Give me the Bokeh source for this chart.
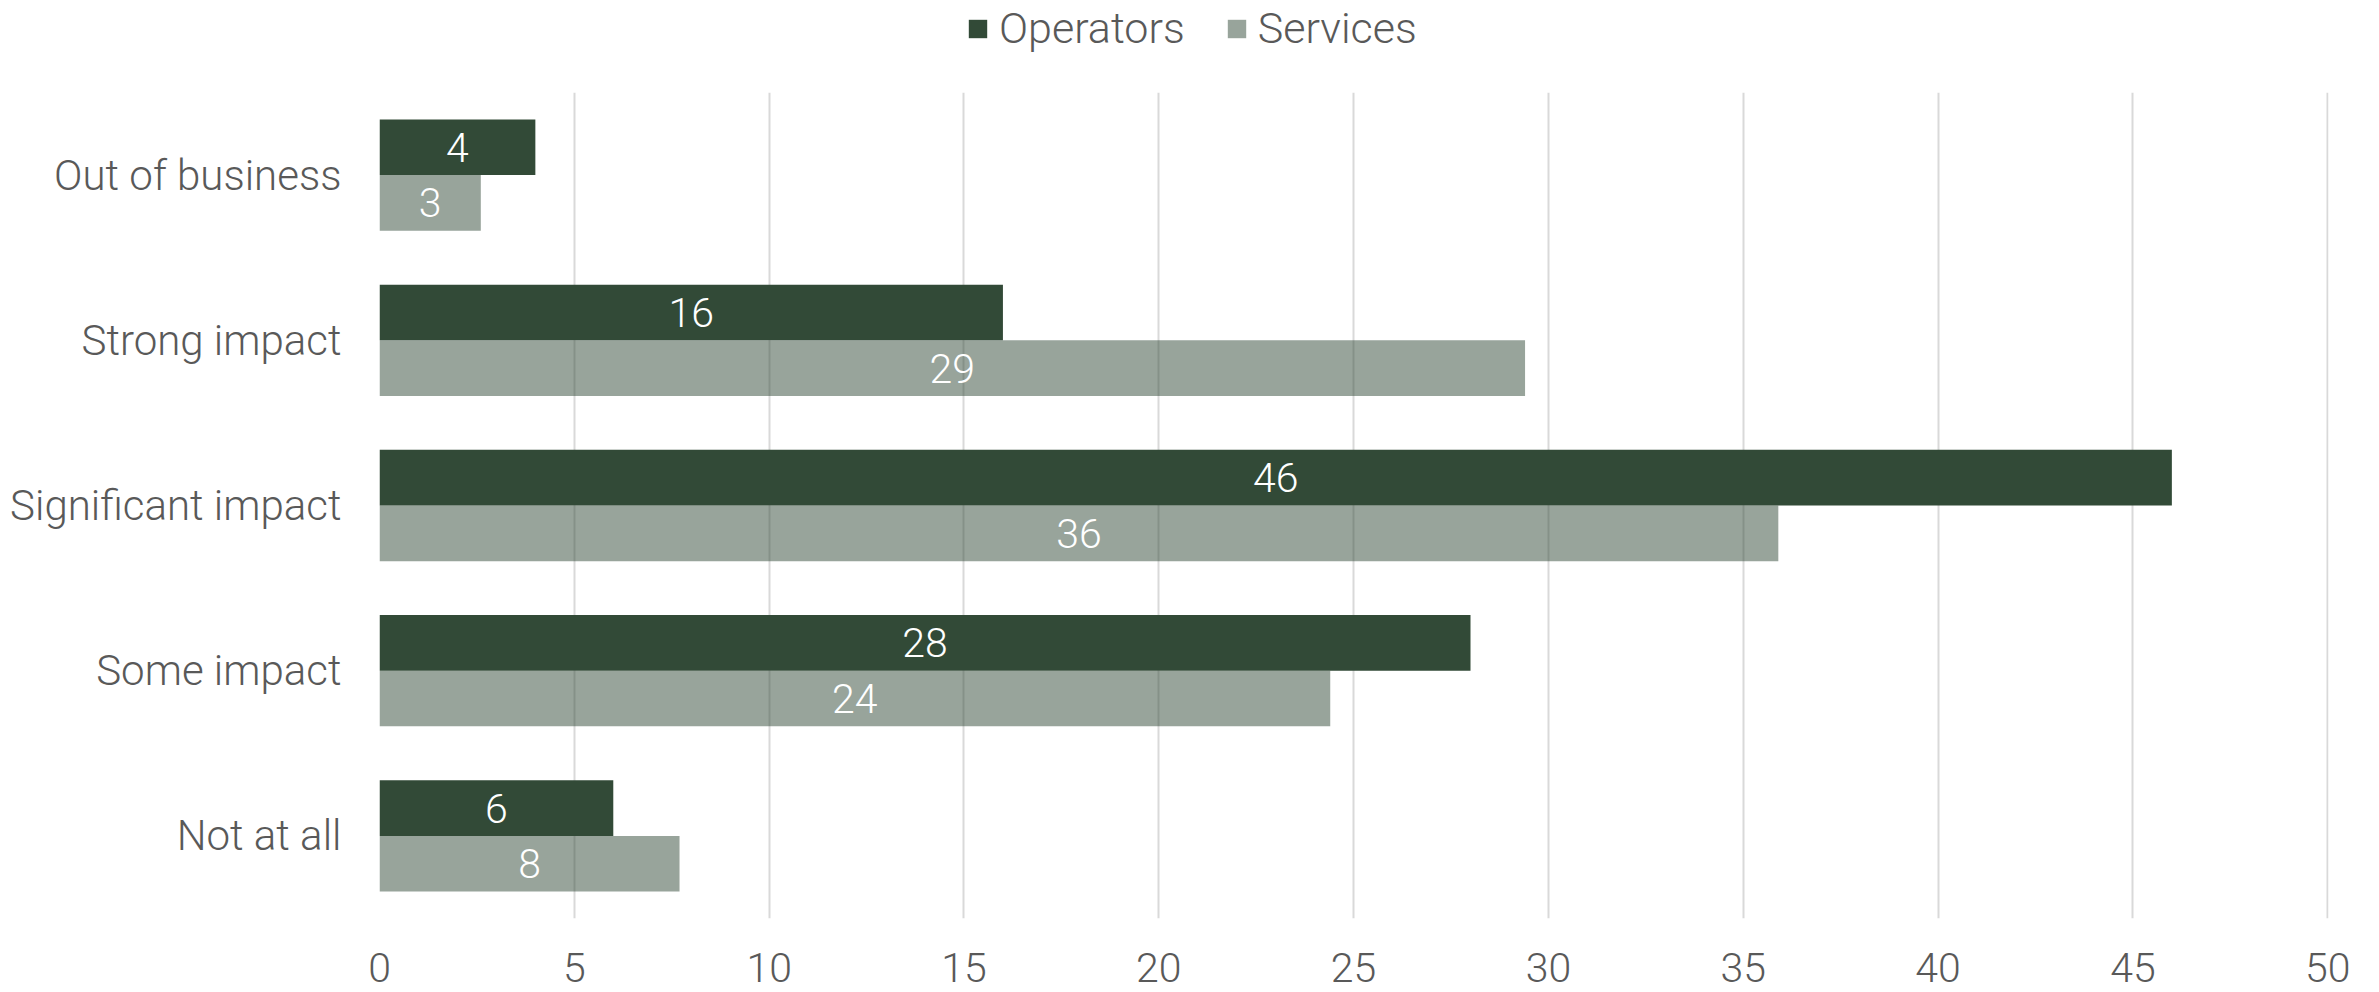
from bokeh.plotting import figure
from bokeh.layouts import column
from bokeh.models import ColumnDataSource, FactorRange, Range1d, FixedTicker, Legend, LegendItem
from bokeh.transform import dodge
from bokeh.core.properties import value
from bokeh.embed import file_html
from bokeh.resources import INLINE

# ---- data ----
categories = ["Out of business", "Strong impact", "Significant impact", "Some impact", "Not at all"]
operators = [4, 16, 46, 28, 6]
services = [2.6, 29.4, 35.9, 24.4, 7.7]
series_names = ["Operators", "Services"]
x_ticks = [0, 5, 10, 15, 20, 25, 30, 35, 40, 45, 50]

# ---- style ----
DARK = "#324a37"
GRAY = "#595959"
GRID = "#d9d9d9"
FONT = "'Roboto Light', 'Liberation Sans', sans-serif"
BAR_H = 0.337
OFF = BAR_H / 2
SV_ALPHA = 0.5

src = ColumnDataSource(dict(
    cat=categories,
    op=operators,
    sv=services,
    op_mid=[v / 2 for v in operators],
    sv_mid=[v / 2 for v in services],
    op_lbl=[f"{v:.0f}" for v in operators],
    sv_lbl=[f"{v:.0f}" for v in services],
))

# ---- legend strip (swatch renderers map to NaN on this strip's numeric range: nothing drawn) ----
leg = figure(width=2379, height=59, x_range=Range1d(0, 1), y_range=Range1d(0, 1),
             output_backend="svg", toolbar_location=None,
             x_axis_type=None, y_axis_type=None,
             min_border=0, outline_line_color=None)
leg.xgrid.visible = False
leg.ygrid.visible = False
d1 = leg.hbar(y="cat", left=0, right="op", height=BAR_H, fill_color=DARK, line_color=None,
              source=src)
d2 = leg.hbar(y="cat", left=0, right="sv", height=BAR_H, fill_color=DARK, fill_alpha=SV_ALPHA,
              line_color=None, source=src)
lg = Legend(items=[LegendItem(label=value(series_names[0]), renderers=[d1], index=0),
                   LegendItem(label=value(series_names[1]), renderers=[d2], index=0)],
            orientation="horizontal", location=(587, 6),
            glyph_width=23, glyph_height=23,
            label_text_font=FONT, label_text_font_size="43px", label_text_color=GRAY,
            label_standoff=10, spacing=40, padding=0, margin=0,
            border_line_color=None, background_fill_alpha=0)
leg.add_layout(lg, "center")

# ---- main chart ----
p = figure(width=2379, height=933,
           y_range=FactorRange(factors=list(reversed(categories))),
           x_range=Range1d(0, 50.02),
           output_backend="svg", toolbar_location=None,
           min_border_left=379, min_border_right=51,
           min_border_top=33, min_border_bottom=74,
           outline_line_color=None)

p.hbar(y=dodge("cat", OFF, range=p.y_range), left=0, right="op", height=BAR_H,
       fill_color=DARK, line_color=None, source=src)
p.hbar(y=dodge("cat", -OFF, range=p.y_range), left=0, right="sv", height=BAR_H,
       fill_color=DARK, fill_alpha=SV_ALPHA, line_color=None, source=src)

for xcol, off, lcol in (("op_mid", OFF, "op_lbl"), ("sv_mid", -OFF, "sv_lbl")):
    p.text(x=xcol, y=dodge("cat", off, range=p.y_range), text=lcol, source=src,
           text_align="center", text_baseline="middle", text_color="white",
           text_font=value(FONT), text_font_size="41px")

for ax in (p.xaxis[0], p.yaxis[0]):
    ax.axis_line_color = None
    ax.major_tick_line_color = None
    ax.minor_tick_line_color = None
    ax.major_label_text_font = FONT
    ax.major_label_text_color = GRAY
    ax.major_label_text_font_size = "41px"
p.xaxis.ticker = FixedTicker(ticks=x_ticks)
p.xaxis.major_label_standoff = 28
p.yaxis.major_label_standoff = 32
p.yaxis.major_label_text_font_size = "42px"

p.xgrid.ticker = FixedTicker(ticks=x_ticks)
p.xgrid.grid_line_color = GRID
p.xgrid.grid_line_width = 2
p.ygrid.grid_line_color = None

open("out.html", "w").write(file_html(column(leg, p, spacing=0), INLINE))
